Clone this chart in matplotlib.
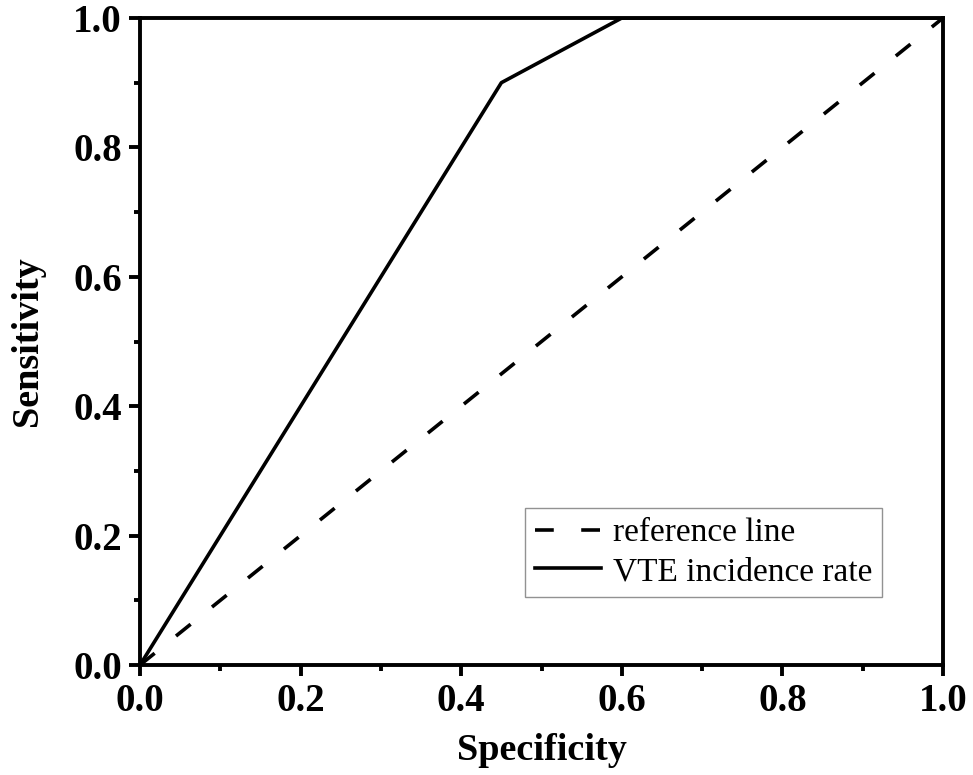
import matplotlib
matplotlib.use("Agg")
import matplotlib.pyplot as plt
from matplotlib.ticker import MultipleLocator

plt.rcParams['font.family'] = ['Liberation Serif', 'DejaVu Serif']

ref_x = [0.0, 1.0]
ref_y = [0.0, 1.0]
vte_x = [0.0, 0.45, 0.60, 1.0]
vte_y = [0.0, 0.90, 1.0, 1.0]
tick_vals = [0.0, 0.2, 0.4, 0.6, 0.8, 1.0]
tick_labels = ['0.0', '0.2', '0.4', '0.6', '0.8', '1.0']

fig = plt.figure(figsize=(9.73, 7.75), dpi=100)
ax = fig.add_axes([0.1439, 0.1419, 0.8253, 0.8349])

ax.plot(ref_x, ref_y, color='black', lw=2.6, dashes=(5.2, 7.6), label='reference line')
ax.plot(vte_x, vte_y, color='black', lw=2.6, label='VTE incidence rate')

ax.set_xlim(0, 1)
ax.set_ylim(0, 1)
ax.set_xticks(tick_vals)
ax.set_xticklabels(tick_labels)
ax.set_yticks(tick_vals)
ax.set_yticklabels(tick_labels)
ax.xaxis.set_minor_locator(MultipleLocator(0.1))
ax.yaxis.set_minor_locator(MultipleLocator(0.1))

for s in ax.spines.values():
    s.set_linewidth(2.8)

ax.tick_params(which='major', direction='out', length=8, width=2.8, labelsize=28, pad=5,
               top=False, right=False)
ax.tick_params(which='minor', direction='out', length=4, width=2.8, top=False, right=False)
for lab in ax.get_xticklabels() + ax.get_yticklabels():
    lab.set_fontweight('bold')

ax.set_xlabel('Specificity', fontsize=27.5, fontweight='bold', labelpad=9)
ax.set_ylabel('Sensitivity', fontsize=27.5, fontweight='bold', labelpad=20)

leg = ax.legend(loc='lower right', bbox_to_anchor=(0.9245, 0.105), fontsize=24,
                frameon=True, fancybox=False, edgecolor='#777777', handlelength=2.0,
                handletextpad=0.35, borderpad=0.3, labelspacing=0.25, borderaxespad=0)
leg.get_frame().set_linewidth(1.0)

fig.savefig('out.png', dpi=100)
